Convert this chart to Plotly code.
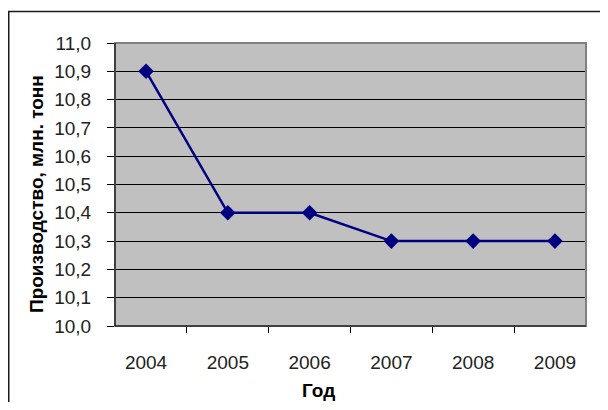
import plotly.graph_objects as go

years = ["2004", "2005", "2006", "2007", "2008", "2009"]
production = [10.9, 10.4, 10.4, 10.3, 10.3, 10.3]
y_ticks = [10.0, 10.1, 10.2, 10.3, 10.4, 10.5, 10.6, 10.7, 10.8, 10.9, 11.0]
y_tick_labels = ["10,0", "10,1", "10,2", "10,3", "10,4", "10,5", "10,6", "10,7", "10,8", "10,9", "11,0"]

# page has an 8px body margin; work in figure pixel coordinates
OFF = 8
W, H = 592, 394
L, R, T, B = 115 - OFF, 586 - OFF, 43 - OFF, 326 - OFF
pw, ph = R - L, B - T

def px_x(p):
    return (p - L) / pw

def px_y(p):
    return (B - p) / ph

fig = go.Figure()
fig.add_trace(go.Scatter(
    x=years, y=production, mode="lines+markers",
    line=dict(color="#000080", width=2.5),
    marker=dict(symbol="diamond", size=12, color="#000080"),
    showlegend=False, cliponaxis=False,
))

fam = "Liberation Sans, Arial, sans-serif"
font = dict(family=fam, size=19, color="#222222")

fig.update_layout(
    width=W, height=H,
    margin=dict(l=L, r=W - R, t=T, b=H - B),
    paper_bgcolor="white", plot_bgcolor="#C0C0C0",
    font=font,
    xaxis=dict(
        type="category", tickson="boundaries", ticks="outside", ticklen=6,
        tickcolor="black", showgrid=False, showline=True, linecolor="black",
        linewidth=1, ticklabelstandoff=19, tickfont=font, zeroline=False,
    ),
    yaxis=dict(
        range=[10.0, 11.0], tickvals=y_ticks, ticktext=y_tick_labels,
        ticks="outside", ticklen=7, tickcolor="black", showgrid=True,
        gridcolor="black", gridwidth=1, showline=True, linecolor="black",
        linewidth=1, ticklabelstandoff=12, tickfont=font, zeroline=False,
    ),
    shapes=[
        dict(type="rect", xref="paper", yref="paper", x0=0, x1=1, y0=0, y1=1,
             line=dict(color="#808080", width=2), layer="above"),
        dict(type="line", xref="paper", yref="paper", x0=0, x1=0, y0=0, y1=1,
             line=dict(color="black", width=1), layer="above"),
        dict(type="line", xref="paper", yref="paper", x0=0, x1=1, y0=0, y1=0,
             line=dict(color="black", width=1), layer="above"),
        dict(type="rect", xref="paper", yref="paper",
             x0=px_x(0.75), x1=px_x(640), y0=px_y(440), y1=px_y(11.5 - OFF),
             line=dict(color="#1a1a1a", width=1.5), layer="above"),
    ],
    annotations=[
        dict(text="<b>Производство, млн. тонн</b>", xref="paper", yref="paper",
             x=px_x(36 - OFF), y=px_y(194 - OFF), textangle=-90, showarrow=False,
             font=dict(family=fam, size=19, color="black"),
             xanchor="center", yanchor="middle"),
        dict(text="<b>Год</b>", xref="paper", yref="paper",
             x=px_x(318.5 - OFF), y=px_y(390 - OFF), showarrow=False,
             font=dict(family=fam, size=19, color="black"),
             xanchor="center", yanchor="middle"),
    ],
)

fig.write_html("out.html")
